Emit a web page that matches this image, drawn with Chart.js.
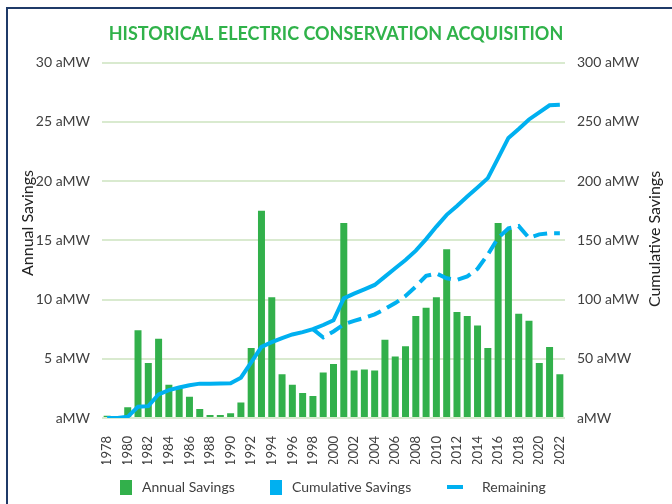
<!DOCTYPE html>
<html>
<head>
<meta charset="utf-8">
<script src="https://cdn.jsdelivr.net/npm/chart.js@4.4.0/dist/chart.umd.min.js"></script>
<style>
  html, body { margin: 0; padding: 0; background: #fff; }
  body { width: 672px; height: 504px; position: relative; overflow: hidden; font-family: Lato, sans-serif; }
  .frame { position: absolute; left: 6px; top: 7px; width: 800px; height: 600px;
           border-left: 2px solid #1f3a68; border-top: 2px solid #1f3a68; }
  #chartBox { position: absolute; left: 0; top: 0; width: 672px; height: 504px; }
  .lg { position: absolute; font-size: 14px; line-height: 18px; color: #404040; white-space: nowrap; }
  .sw { position: absolute; }
  /* axis titles both read bottom-to-top, like the original */
  .axt { position: absolute; width: 200px; height: 20px; line-height: 20px; text-align: center;
         font-size: 16px; color: #222; transform: rotate(-90deg); transform-origin: 50% 50%; white-space: nowrap; }
</style>
</head>
<body>
<div class="frame"></div>
<div id="chartBox"><canvas id="consChart" width="672" height="504"></canvas></div>

<div class="axt" style="left:-73px; top:213px;">Annual Savings</div>
<div class="axt" style="left:554px; top:229px;">Cumulative Savings</div>

<!-- legend, laid out like the original -->
<div class="sw" style="left:120px; top:480px; width:12px; height:15px; background:#32b04b;"></div>
<div class="lg" style="left:142px; top:478px;">Annual Savings</div>
<div class="sw" style="left:270px; top:480px; width:12px; height:15px; background:#00b0f0;"></div>
<div class="lg" style="left:292px; top:478px;">Cumulative Savings</div>
<div class="sw" style="left:447px; top:485px; width:16px; height:4px; background:#00b0f0;"></div>
<div class="lg" style="left:482px; top:478px;">Remaining</div>

<script>
// categories
const years = ['1978','1979','1980','1981','1982','1983','1984','1985','1986','1987',
  '1988','1989','1990','1991','1992','1993','1994','1995','1996','1997',
  '1998','1999','2000','2001','2002','2003','2004','2005','2006','2007',
  '2008','2009','2010','2011','2012','2013','2014','2015','2016','2017',
  '2018','2019','2020','2021','2022'];

// annual savings, aMW (left axis)
const annualSavings = [0.2, 0, 0.9, 7.4, 4.65, 6.7, 2.8, 2.5, 1.8, 0.75,
  0.25, 0.25, 0.4, 1.3, 5.9, 17.5, 10.2, 3.7, 2.8, 2.1,
  1.85, 3.85, 4.55, 16.45, 4.0, 4.1, 4.0, 6.6, 5.2, 6.05,
  8.6, 9.3, 10.2, 14.25, 8.95, 8.6, 7.8, 5.9, 16.45, 15.9,
  8.8, 8.2, 4.65, 6.0, 3.7];

// cumulative savings, aMW (right axis)
const cumulativeSavings = [0, 0, 1, 9.5, 10, 20, 23.5, 25.7, 27.7, 29,
  29, 29.2, 29.3, 34, 47, 60, 64, 67.5, 70.5, 72.5,
  75, 78.5, 82.5, 101, 105, 108.6, 112.3, 119.3, 126.4, 133.4,
  141.3, 151, 161.6, 171.5, 179, 187, 194.6, 202.5, 219.4, 236.4,
  244, 252, 258, 264, 264.5];

// remaining, aMW (right axis) - only shown once it splits off in 1998
const remaining = [null, null, null, null, null, null, null, null, null, null,
  null, null, null, null, null, null, null, null, null, null,
  75, 68, 73, 79, 82, 84.5, 87.5, 92, 97, 103,
  111, 120, 122, 118, 116.5, 119.5, 126, 138, 152, 160,
  162, 152, 155, 156, 156];

const leftTicks = [0, 5, 10, 15, 20, 25, 30];
const rightTicks = [0, 50, 100, 150, 200, 250, 300];

const GREEN = '#32b04b';
const BLUE = '#00b0f0';
const TEXT = '#404040';
const FONT = 'Lato, "Open Sans", sans-serif';

const aMW = (v) => v === 0 ? 'aMW' : v + ' aMW';

const ctx = document.getElementById('consChart').getContext('2d');
new Chart(ctx, {
  type: 'bar',
  data: {
    labels: years,
    datasets: [
      {
        type: 'line',
        label: 'Cumulative Savings',
        data: cumulativeSavings,
        yAxisID: 'y2',
        borderColor: BLUE,
        borderWidth: 4,
        pointRadius: 0,
        tension: 0,
        fill: false,
        order: 1
      },
      {
        type: 'line',
        label: 'Remaining',
        data: remaining,
        yAxisID: 'y2',
        borderColor: BLUE,
        borderWidth: 4,
        borderDash: [14, 7],
        borderCapStyle: 'butt',
        pointRadius: 0,
        tension: 0,
        fill: false,
        order: 1
      },
      {
        label: 'Annual Savings',
        data: annualSavings,
        yAxisID: 'y',
        backgroundColor: GREEN,
        barPercentage: 0.68,
        categoryPercentage: 1,
        order: 2
      }
    ]
  },
  options: {
    responsive: false,
    animation: false,
    devicePixelRatio: 1,
    layout: { padding: { left: 0, right: 0, top: 0, bottom: 40 } },
    plugins: {
      legend: { display: false },
      tooltip: { enabled: false },
      title: {
        display: true,
        text: 'HISTORICAL ELECTRIC CONSERVATION ACQUISITION',
        color: '#30b24a',
        font: { family: FONT, size: 18, weight: 'bold' },
        padding: { top: 23, bottom: 18 }
      }
    },
    scales: {
      x: {
        grid: { display: false },
        border: { display: false },
        ticks: {
          autoSkip: false,
          minRotation: 90,
          maxRotation: 90,
          padding: 10,
          color: TEXT,
          font: { family: FONT, size: 13 },
          callback: function (val, i) { return i % 2 === 0 ? years[i] : ''; }
        },
        afterFit: (s) => { s.height = 46; }
      },
      y: {
        position: 'left',
        min: 0,
        max: 30,
        afterBuildTicks: (s) => { s.ticks = leftTicks.map(v => ({ value: v })); },
        grid: { color: '#d9eacf', lineWidth: 2, drawTicks: false },
        border: { display: false },
        ticks: { padding: 12, color: TEXT, font: { family: FONT, size: 14 }, callback: aMW },
        afterFit: (s) => { s.width = 102; }
      },
      y2: {
        position: 'right',
        min: 0,
        max: 300,
        afterBuildTicks: (s) => { s.ticks = rightTicks.map(v => ({ value: v })); },
        grid: { display: false, drawTicks: false },
        border: { display: false },
        ticks: { padding: 12, color: TEXT, font: { family: FONT, size: 14 }, callback: aMW },
        afterFit: (s) => { s.width = 107; }
      }
    }
  }
});
</script>
</body>
</html>
